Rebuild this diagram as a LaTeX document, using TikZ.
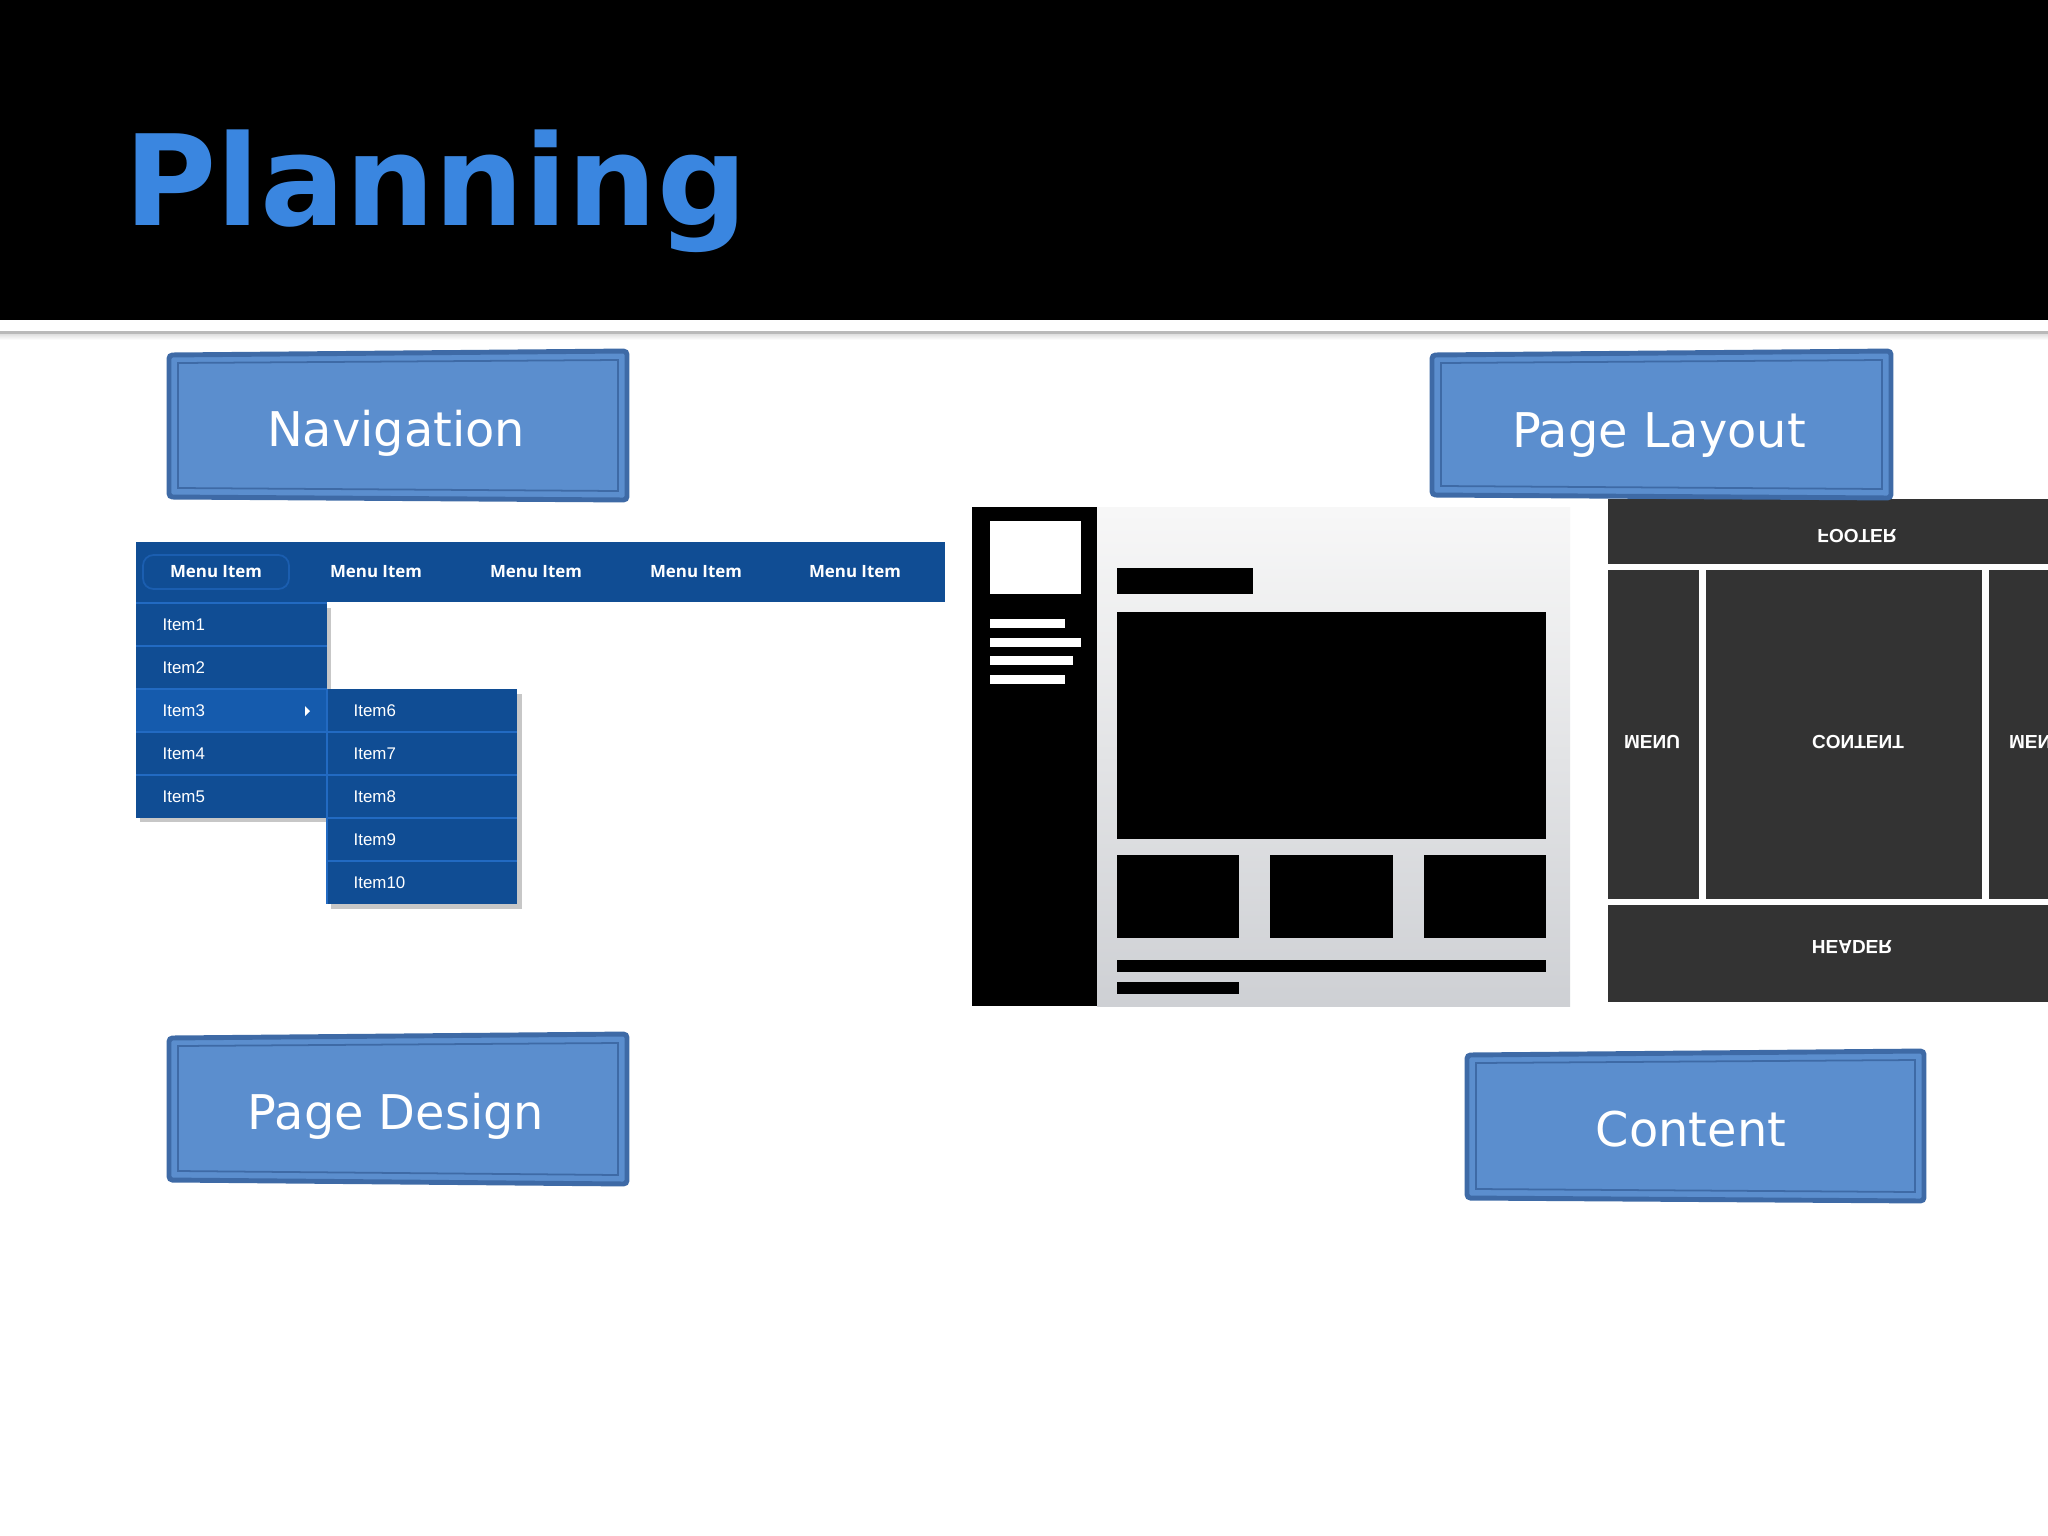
\documentclass[tikz,border=0pt]{standalone}
\usepackage{fontspec}
\usepackage{graphicx}
\setmainfont{DejaVu Sans}
\newfontfamily\menufont{Open Sans}
\newfontfamily\itemfont{Liberation Sans}
\definecolor{titleblue}{RGB}{58,134,224}
\definecolor{boxblue}{RGB}{91,142,206}
\definecolor{boxedge}{RGB}{62,106,166}
\definecolor{navblue}{RGB}{16,77,148}
\definecolor{navhi}{RGB}{21,91,173}
\definecolor{navline}{RGB}{34,106,194}
\definecolor{wiregray}{RGB}{206,208,212}
\definecolor{zonedark}{RGB}{51,51,51}
\tikzset{
  tabbox/.style={fill=boxblue, draw=boxedge, line width=1.4pt, rounded corners=1pt},
  tabinner/.style={draw=boxedge, line width=0.5pt},
  tablbl/.style={text=white, inner sep=0pt, anchor=base, font=\fontsize{13.6}{14}\selectfont},
  menulbl/.style={text=white, inner sep=0pt, font=\menufont\bfseries\fontsize{4.8}{5}\selectfont},
  itemlbl/.style={text=white, anchor=west, inner sep=0pt, font=\itemfont\fontsize{4.8}{5}\selectfont},
  sepline/.style={draw=navline, line width=0.4pt},
  shadowbox/.style={fill=black, opacity=0.22},
  zone/.style={fill=zonedark},
  zonelbl/.style={text=white, inner sep=0pt, font=\itemfont\bfseries\fontsize{5.4}{6}\selectfont}
}
\begin{document}
\begin{tikzpicture}[x=0.01cm, y=-0.01cm]
\useasboundingbox (0,0) rectangle (2048,1536);
\clip (0,0) rectangle (2048,1536);
\fill[white] (0,0) rectangle (2048,1536);

% title bar
\fill[black] (0,0) rectangle (2048,320);
\fill[gray!55] (0,331) rectangle (2048,334);
\shade[top color=gray!25, bottom color=white] (0,334) rectangle (2048,340);
\node[anchor=base west, inner sep=0pt, text=titleblue, font=\bfseries\fontsize{35.8}{40}\selectfont] (title) at (124,225) {Planning};

% navigation menu
\fill[shadowbox] (140,608) rectangle (331,822);
\fill[shadowbox] (331,694) rectangle (522,909);
\fill[navblue] (136,542) rectangle (945,602);
\draw[navline!60!navblue, line width=0.5pt, rounded corners=3pt] (143,555) rectangle (289,589);
\foreach \x [count=\k] in {216,376,536,696,855}
  \node[menulbl] (menu\k) at (\x,572) {Menu Item};
\fill[navblue] (136,602) rectangle (327,818);
\fill[navhi] (136,689) rectangle (327,732);
\fill[navblue] (327,689) rectangle (517,904);
\draw[sepline] (136,603) -- (327,603);
\foreach \y in {646,689,732,775}
  \draw[sepline] (136,\y) -- (327,\y);
\foreach \y in {732,775,818,861}
  \draw[sepline] (327,\y) -- (517,\y);
\draw[sepline] (327,689) -- (327,904);
\foreach \t/\y in {1/625,2/668,3/711,4/754,5/797}
  \node[itemlbl] (item\t) at (162,\y) {Item\t};
\foreach \t/\y in {6/711,7/754,8/797,9/840,10/883}
  \node[itemlbl] (item\t) at (353,\y) {Item\t};
\fill[white] (305,706) -- (310,711) -- (305,716) -- cycle;

% wireframe
\fill[black] (972,507) rectangle (1097,1006);
\shade[top color=white!97!black, bottom color=wiregray] (1097,507) rectangle (1570,1006);
\fill[white] (990,521) rectangle (1081,594);
\fill[white] (990,619) rectangle (1065,628);
\fill[white] (990,638) rectangle (1081,647);
\fill[white] (990,656) rectangle (1073,665);
\fill[white] (990,675) rectangle (1065,684);
\fill[black] (1117,568) rectangle (1253,594);
\fill[black] (1117,612) rectangle (1546,839);
\fill[black] (1117,855) rectangle (1239,938);
\fill[black] (1270,855) rectangle (1393,938);
\fill[black] (1424,855) rectangle (1546,938);
\fill[black] (1117,960) rectangle (1546,972);
\fill[black] (1117,982) rectangle (1239,994);

% flipped layout
\fill[zone] (1608,499) rectangle (2060,564);
\fill[zone] (1608,570) rectangle (1699,899);
\fill[zone] (1706,570) rectangle (1982,899);
\fill[zone] (1989,570) rectangle (2080,899);
\fill[zone] (1608,905) rectangle (2060,1002);
\node[zonelbl] (footer) at (1857,536) {\scalebox{1}[-1]{FOOTER}};
\node[zonelbl] (menuL) at (1652,742) {\scalebox{1}[-1]{MENU}};
\node[zonelbl] (content) at (1858,742) {\scalebox{1}[-1]{CONTENT}};
\node[zonelbl] (menuR) at (2037,742) {\scalebox{1}[-1]{MENU}};
\node[zonelbl] (header) at (1852,947) {\scalebox{1}[-1]{HEADER}};

% topic boxes
\draw[tabbox] (169,355) -- (627,351) -- (627,500) -- (169,497) -- cycle;
\draw[tabinner] (178,363) -- (618,360) -- (618,491) -- (178,488) -- cycle;
\node[tablbl] (nav) at (396,446) {Navigation};

\draw[tabbox] (1432,355) -- (1891,351) -- (1891,498) -- (1432,495) -- cycle;
\draw[tabinner] (1441,363) -- (1882,360) -- (1882,489) -- (1441,486) -- cycle;
\node[tablbl] (layout) at (1659,447) {Page Layout};

\draw[tabbox] (169,1038) -- (627,1034) -- (627,1184) -- (169,1180) -- cycle;
\draw[tabinner] (178,1046) -- (618,1043) -- (618,1175) -- (178,1171) -- cycle;
\node[tablbl] (design) at (396,1129) {Page Design};

\draw[tabbox] (1467,1055) -- (1924,1051) -- (1924,1201) -- (1467,1198) -- cycle;
\draw[tabinner] (1476,1063) -- (1915,1060) -- (1915,1192) -- (1476,1189) -- cycle;
\node[tablbl] (topic) at (1691,1146) {Content};
\end{tikzpicture}
\end{document}
